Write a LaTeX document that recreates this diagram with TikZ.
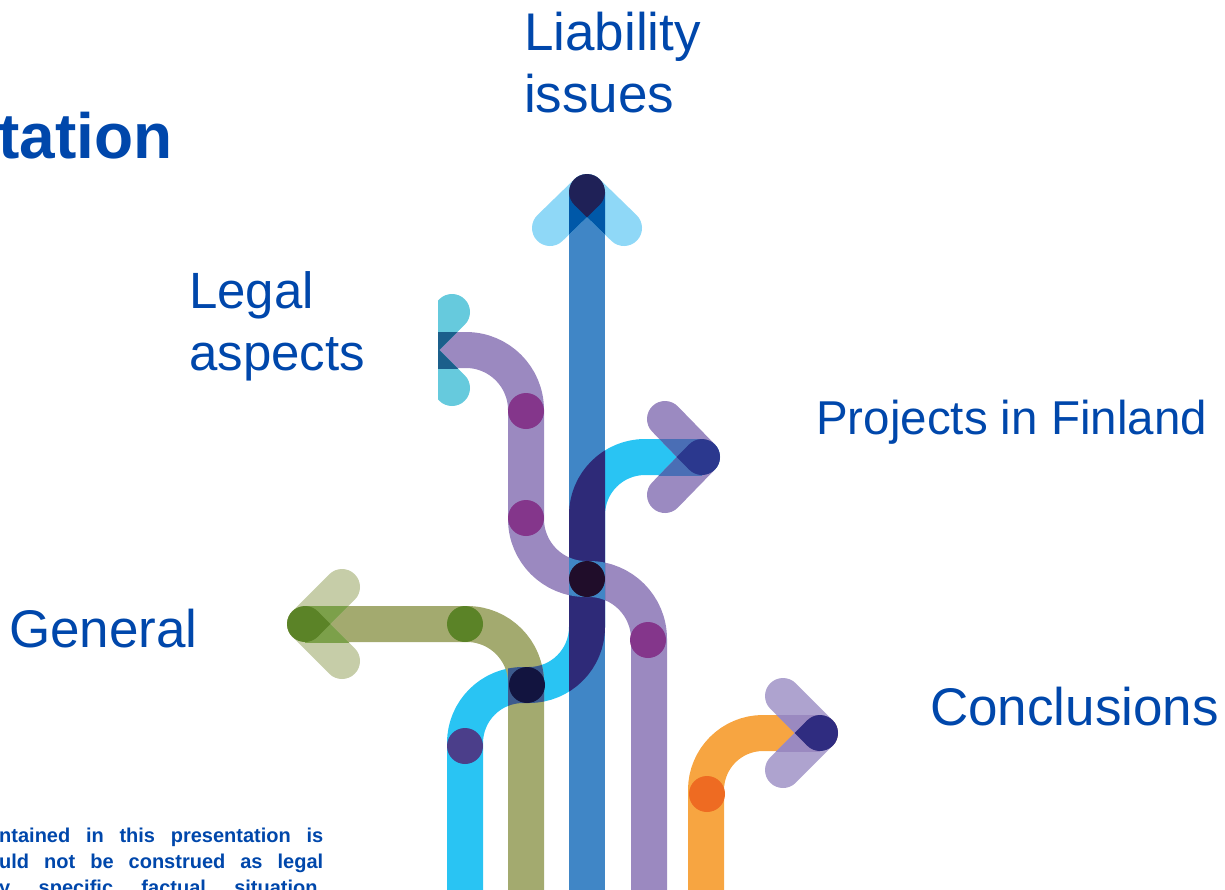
\documentclass[tikz,border=0pt]{standalone}
\usepackage{fontspec}
\setmainfont{Liberation Sans}
\usepackage{xcolor}

\definecolor{txtblue}{HTML}{0047AB}
\definecolor{liabblue}{HTML}{4086C6}
\definecolor{liabchev}{HTML}{8FD8F7}
\definecolor{liabover}{HTML}{0058A8}
\definecolor{liabdot}{HTML}{1F2157}
\definecolor{projcyan}{HTML}{29C4F3}
\definecolor{projnavy}{HTML}{2E2A78}
\definecolor{projchev}{HTML}{9B8AC1}
\definecolor{projover}{HTML}{4A6EB5}
\definecolor{projdot}{HTML}{2B388E}
\definecolor{legalpurple}{HTML}{9B89C0}
\definecolor{legalchev}{HTML}{66CADD}
\definecolor{legalover}{HTML}{1B5F8B}
\definecolor{purpledot}{HTML}{84368B}
\definecolor{genolive}{HTML}{A3AA6F}
\definecolor{genchev}{HTML}{C6CDA8}
\definecolor{genover}{HTML}{7CA04A}
\definecolor{greendot}{HTML}{5B8327}
\definecolor{concorange}{HTML}{F7A541}
\definecolor{concchev}{HTML}{AEA3CF}
\definecolor{concover}{HTML}{9A89C0}
\definecolor{concdot}{HTML}{2F2C80}
\definecolor{orangedot}{HTML}{EE6B22}
\definecolor{cyandot}{HTML}{4B3E8A}
\definecolor{gcover}{HTML}{3C5A8D}
\definecolor{crossdark}{HTML}{200D2A}
\definecolor{crossnavy}{HTML}{12143F}

\begin{document}
\begin{tikzpicture}[x=1pt,y=-1pt,
    stripe/.style={line width=36pt,line cap=round,line join=round},
    spot/.style={circle,inner sep=0pt,minimum size=36pt},
    heading/.style={anchor=base west,inner sep=0pt,text=txtblue,font=\fontsize{53}{60}\selectfont},
    smallprint/.style={anchor=base west,inner sep=0pt,text=txtblue,font=\bfseries\fontsize{20}{27}\selectfont}]
    \useasboundingbox (0,0) rectangle (1225,889);
    \clip (0,0) rectangle (1225,889);

    \coordinate (liabtip) at (587,192);
    \coordinate (legaltip) at (414,350);
    \coordinate (projtip) at (702,457);
    \coordinate (conctip) at (820,733);
    \coordinate (gentip) at (305,624);

    % stripes
    \draw[stripe,projcyan,rounded corners=58] (465,910) -- (465,685) -- (587,685) -- (587,457) -- (projtip);
    \begin{scope}
        \clip (438,0) rectangle (1225,889);
        \draw[stripe,legalpurple,rounded corners=60] (legaltip) -- (526,350) -- (526,579) -- (649,579) -- (649,910);
    \end{scope}
    \draw[stripe,genolive,rounded corners=59] (gentip) -- (526,624) -- (526,910);
    \draw[stripe,concorange,rounded corners=57] (706,910) -- (706,733) -- (conctip);
    \draw[stripe,liabblue] (587,910) -- (liabtip);

    % crossings
    \begin{scope}
        \clip (569,380) rectangle (605,760);
        \draw[stripe,projnavy,rounded corners=58] (465,910) -- (465,685) -- (587,685) -- (587,457) -- (projtip);
    \end{scope}
    \begin{scope}
        \clip (569,540) rectangle (605,620);
        \draw[stripe,liabblue,rounded corners=60] (legaltip) -- (526,350) -- (526,579) -- (649,579) -- (649,910);
    \end{scope}
    \begin{scope}
        \clip (508,683) rectangle (544,760);
        \draw[stripe,gcover,rounded corners=58] (465,910) -- (465,685) -- (587,685) -- (587,457);
    \end{scope}
    \begin{scope}
        \clip (508,590) rectangle (544,683);
        \clip (467,683) circle (77);
        \draw[stripe,gcover,rounded corners=58] (465,910) -- (465,685) -- (587,685) -- (587,457);
    \end{scope}

    % arrow heads
    \draw[stripe,liabchev] (550,228) -- (liabtip) -- (624,228);
    \begin{scope}
        \clip (569,192) rectangle (605,300);
        \draw[stripe,liabover] (550,228) -- (liabtip) -- (624,228);
    \end{scope}
    \fill[liabdot] (liabtip) circle (18);
    \fill[liabdot] (liabtip) -- ++(-12.73,12.73) -- ++(12.73,12.73) -- ++(12.73,-12.73) -- cycle;

    \draw[stripe,projchev] (665,419) -- (projtip) -- (665,495);
    \begin{scope}
        \clip (640,439) rectangle (702,475);
        \draw[stripe,projover] (665,419) -- (projtip) -- (665,495);
    \end{scope}
    \fill[projdot] (projtip) circle (18);
    \fill[projdot] (projtip) -- ++(-12.73,-12.73) -- ++(-12.73,12.73) -- ++(12.73,12.73) -- cycle;

    \draw[stripe,concchev] (783,696) -- (conctip) -- (783,770);
    \begin{scope}
        \clip (760,715) rectangle (820,751);
        \draw[stripe,concover] (783,696) -- (conctip) -- (783,770);
    \end{scope}
    \fill[concdot] (conctip) circle (18);
    \fill[concdot] (conctip) -- ++(-12.73,-12.73) -- ++(-12.73,12.73) -- ++(12.73,12.73) -- cycle;

    \draw[stripe,genchev] (342,587) -- (gentip) -- (342,661);
    \begin{scope}
        \clip (305,606) rectangle (380,642);
        \draw[stripe,genover] (342,587) -- (gentip) -- (342,661);
    \end{scope}
    \fill[greendot] (gentip) circle (18);
    \fill[greendot] (gentip) -- ++(12.73,-12.73) -- ++(12.73,12.73) -- ++(-12.73,12.73) -- cycle;

    \begin{scope}
        \clip (438,0) rectangle (1225,889);
        \draw[stripe,legalchev] (452,312) -- (legaltip) -- (452,388);
        \clip (414,332) rectangle (480,368);
        \draw[stripe,legalover] (452,312) -- (legaltip) -- (452,388);
    \end{scope}

    % dots
    \node (pdot1) at (526,411) [spot,fill=purpledot] {};
    \node (pdot2) at (526,518) [spot,fill=purpledot] {};
    \node (pdot3) at (648,640) [spot,fill=purpledot] {};
    \node (cdot) at (465,746) [spot,fill=cyandot] {};
    \node (gdot) at (465,624) [spot,fill=greendot] {};
    \node (odot) at (707,794) [spot,fill=orangedot] {};
    \node (xdot1) at (587,579) [spot,fill=crossdark] {};
    \node (xdot2) at (527,685) [spot,fill=crossnavy] {};

    % texts
    \node (title) at (-2,158) [heading,font=\bfseries\fontsize{64}{70}\selectfont] {tation};
    \node (liab1) at (524,50) [heading] {Liability};
    \node (liab2) at (524,112) [heading] {issues};
    \node (legal1) at (189,308) [heading,font=\fontsize{51}{60}\selectfont] {Legal};
    \node (legal2) at (189,370) [heading,font=\fontsize{51}{60}\selectfont] {aspects};
    \node (proj) at (816,434) [heading,font=\fontsize{47.5}{56}\selectfont] {Projects in Finland};
    \node (gen) at (9,647) [heading] {General};
    \node (conc) at (930,725) [heading] {Conclusions};
    \node (note1) at (-1,842) [smallprint] {\makebox[324pt][s]{ntained in this presentation is}};
    \node (note2) at (-1,868) [smallprint] {\makebox[324pt][s]{uld not be construed as legal}};
    \node (note3) at (-1,894) [smallprint] {\makebox[324pt][s]{y specific factual situation.}};
\end{tikzpicture}
\end{document}
